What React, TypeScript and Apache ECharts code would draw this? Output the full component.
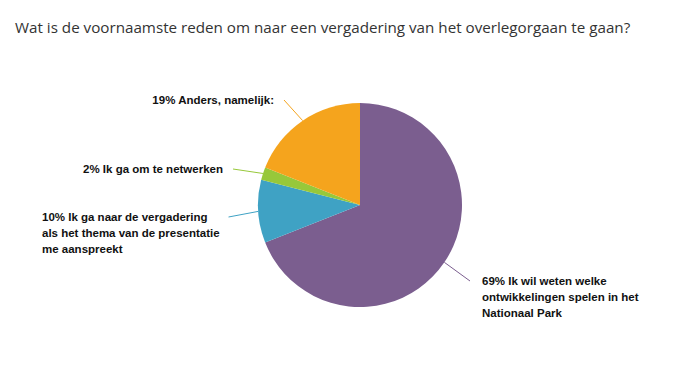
import React, { useEffect, useRef } from "react";
import * as echarts from "echarts";

const title = "Wat is de voornaamste reden om naar een vergadering van het overlegorgaan te gaan?";
const categories = [
  "Ik wil weten welke\nontwikkelingen spelen in het\nNationaal Park",
  "Ik ga naar de vergadering\nals het thema van de presentatie\nme aanspreekt",
  "Ik ga om te netwerken",
  "Anders, namelijk:",
];
const values = [69, 10, 2, 19];
const colors = ["#7b5e8f", "#3fa2c4", "#97c83a", "#f5a41d"];

export default function App() {
  const ref = useRef<HTMLDivElement>(null);
  useEffect(() => {
    if (!ref.current) return;
    const chart = echarts.init(ref.current, undefined, { renderer: "svg" });
    const fullLabel = (i: number) => `${values[i]}% ${categories[i]}`;
    const labelPos = [
      { x: 474, y: 265, align: "left", verticalAlign: "top" },
      { x: 34, y: 201, align: "left", verticalAlign: "top" },
      { x: 215, y: 161, align: "right", verticalAlign: "middle" },
      { x: 266, y: 92, align: "right", verticalAlign: "middle" },
    ];
    const guidePad = [
      [0, 0, 0, 12],
      [0, 21, 0, 0],
      [0, 10, 0, 0],
      [0, 10, 0, 0],
    ];
    const guidePos = [
      { x: 462, y: 265, align: "left", verticalAlign: "top" },
      { x: 34, y: 201, align: "left", verticalAlign: "top" },
      { x: 225, y: 161, align: "right", verticalAlign: "middle" },
      { x: 276, y: 92, align: "right", verticalAlign: "middle" },
    ];
    const textStyle = {
      fontFamily: "Liberation Sans",
      fontWeight: "bold",
      fontSize: 11.5,
      lineHeight: 16,
    };
    chart.setOption({
      animation: false,
      title: {
        text: title,
        left: 2,
        top: 6,
        textStyle: { fontFamily: "Open Sans", fontSize: 15.2, fontWeight: "normal", color: "#333" },
      },
      series: [
        {
          type: "pie",
          center: [352, 197],
          radius: 102,
          startAngle: 90,
          clockwise: true,
          silent: true,
          z: 1,
          data: categories.map((c, i) => ({
            name: c,
            value: values[i],
            itemStyle: { color: "rgba(0,0,0,0)" },
            label: { padding: guidePad[i] },
          })),
          label: {
            show: true,
            formatter: (p: any) => fullLabel(p.dataIndex).split("\n")[0],
            ...textStyle,
            color: "rgba(0,0,0,0)",
          },
          labelLine: {
            show: true,
            smooth: 0.4,
            length: 8,
            length2: 0,
            lineStyle: { width: 1 },
          },
          labelLayout: (p: any) => guidePos[p.dataIndex],
          emphasis: { disabled: true },
        },
        {
          type: "pie",
          center: [352, 197],
          radius: 102,
          startAngle: 90,
          clockwise: true,
          z: 2,
          data: categories.map((c, i) => ({ name: c, value: values[i], itemStyle: { color: colors[i] } })),
          label: {
            show: true,
            formatter: (p: any) => fullLabel(p.dataIndex),
            ...textStyle,
            color: "#111",
          },
          labelLine: { show: false },
          labelLayout: (p: any) => labelPos[p.dataIndex],
          emphasis: { disabled: true },
        },
      ],
    });
    // leader lines take the slice colours
    chart.setOption({
      series: [
        {
          data: categories.map((c, i) => ({
            name: c,
            value: values[i],
            itemStyle: { color: "rgba(0,0,0,0)" },
            label: { padding: guidePad[i] },
            labelLine: { lineStyle: { color: colors[i] } },
          })),
        },
      ],
    });
    return () => chart.dispose();
  }, []);
  return <div ref={ref} style={{ width: 684, height: 364 }} />;
}
